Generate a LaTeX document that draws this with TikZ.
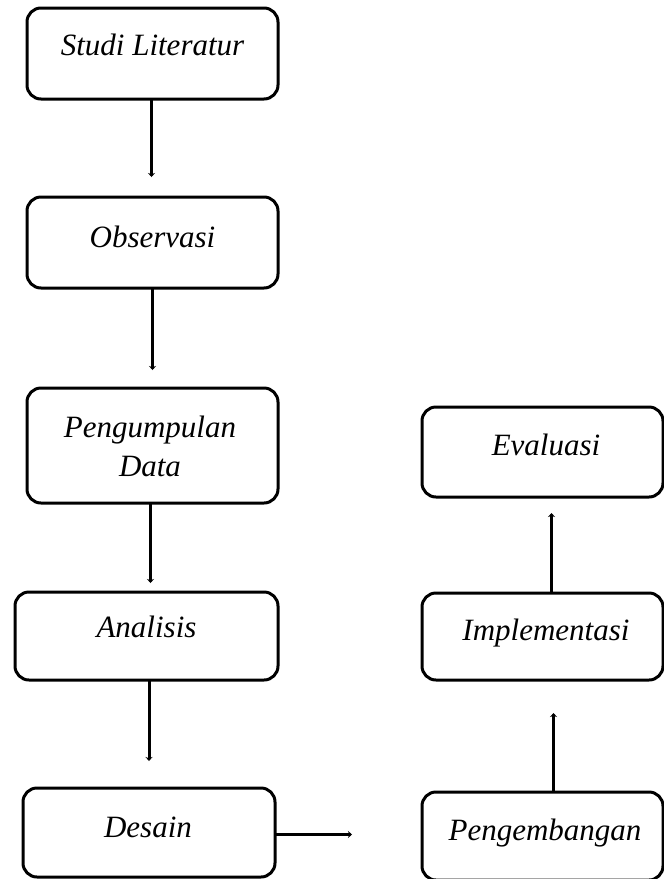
\documentclass[tikz,border=0pt]{standalone}
\usepackage{fontspec}
\setmainfont{Liberation Serif}
\usetikzlibrary{arrows.meta,calc}
\tikzset{
  stepbox/.style={draw=black, line width=3pt, rounded corners=14pt, inner sep=0pt, outer sep=0pt, fill=white},
  lbl/.style={inner sep=0pt, outer sep=0pt, font=\fontsize{31}{39}\selectfont\itshape, text=black},
  conn/.style={draw=black, line width=3pt, -{Stealth[length=4pt,width=7pt]}},
}
\begin{document}
\begin{tikzpicture}[x=1pt,y=-1pt]
\useasboundingbox (0,0) rectangle (664,879);
% boxes
\node[stepbox, minimum width=251pt, minimum height=91pt] (lit) at (152.5,53.5) {};
\node[stepbox, minimum width=251pt, minimum height=91pt] (obs) at (152.5,242.5) {};
\node[stepbox, minimum width=251pt, minimum height=115pt] (pd) at (152.5,445.5) {};
\node[stepbox, minimum width=263pt, minimum height=88pt] (ana) at (146.5,636) {};
\node[stepbox, minimum width=252pt, minimum height=89pt] (des) at (149,832.5) {};
\node[stepbox, minimum width=241pt, minimum height=88pt] (dev) at (542.5,836) {};
\node[stepbox, minimum width=241pt, minimum height=87pt] (imp) at (542.5,636.5) {};
\node[stepbox, minimum width=241pt, minimum height=90pt] (eva) at (542.5,452) {};
% labels
\node[lbl, anchor=base] (litT) at (152.5,55) {Studi Literatur};
\node[lbl, anchor=base] (obsT) at (152.5,247) {Observasi};
\node[lbl, anchor=center, align=center] (pdT) at (150,446) {Pengumpulan\\Data};
\node[lbl, anchor=base] (anaT) at (146.5,637) {Analisis};
\node[lbl, anchor=base] (desT) at (148,837) {Desain};
\node[lbl, anchor=base] (devT) at (545,840) {Pengembangan};
\node[lbl, anchor=base] (impT) at (546,640) {Implementasi};
\node[lbl, anchor=base] (evaT) at (546,455) {Evaluasi};
% connectors
\draw[conn, shorten >=20pt] ($(lit.south)+(-1,0)$) -- ($(obs.north)+(-1,0)$);
\draw[conn, shorten >=18pt] (obs.south) -- (obs.south |- pd.north);
\draw[conn, shorten >=9pt] ($(pd.south)+(-2,0)$) -- ($(pd.south |- ana.north)+(-2,0)$);
\draw[conn, shorten >=27pt] (ana.south -| des.north) -- (des.north);
\draw[conn, shorten >=70pt] ($(des.east)+(0,2)$) -- ($(des.east -| dev.west)+(0,2)$);
\draw[conn, shorten >=33pt] ($(dev.north)+(11,0)$) -- ($(dev.north |- imp.south)+(11,0)$);
\draw[conn, shorten >=16pt] ($(imp.north)+(9,0)$) -- ($(imp.north |- eva.south)+(9,0)$);
\end{tikzpicture}
\end{document}
